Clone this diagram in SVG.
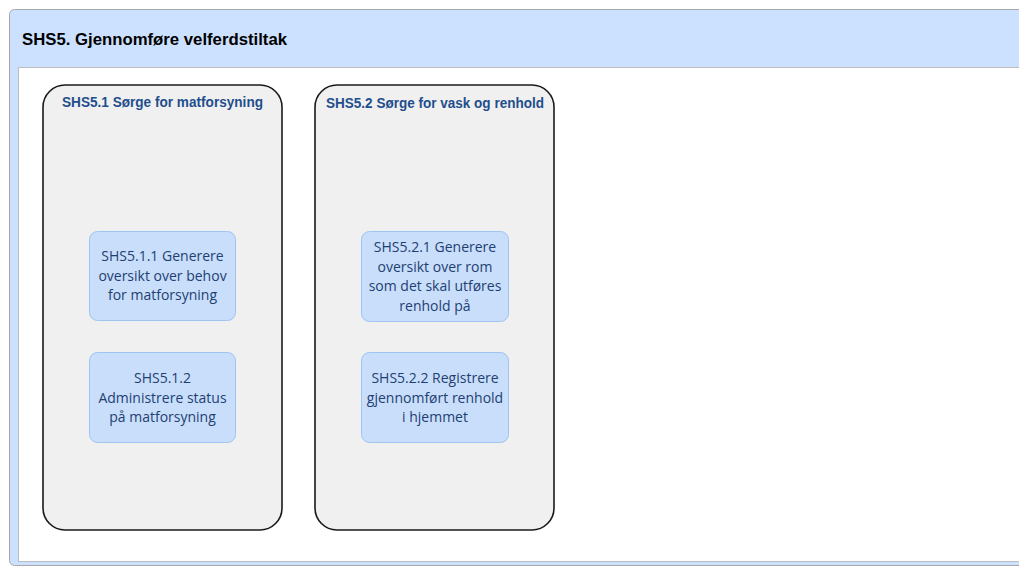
<svg xmlns="http://www.w3.org/2000/svg" width="1019" height="566" viewBox="0 0 1019 566">
  <style>
    .lane { fill: #f0f0f0; stroke: #1a1a1a; stroke-width: 1.6; }
    .lane-title { font-family: "Liberation Sans", Arial, sans-serif; font-weight: bold; font-size: 14px; fill: #1f4e8c; }
    .task { fill: #c8defa; stroke: #9fc4f0; stroke-width: 1; }
    .task-text { font-family: "Open Sans", "Liberation Sans", sans-serif; font-size: 14px; fill: #1f3f73; text-anchor: middle; }
    .main-title { font-family: "Liberation Sans", Arial, sans-serif; font-weight: bold; font-size: 17px; fill: #000; }
  </style>

  <rect x="0" y="0" width="1019" height="566" fill="#ffffff"/>

  <!-- outer process frame -->
  <g id="SHS5">
    <rect x="9.5" y="9.5" width="1030" height="556" rx="5" fill="#cce0ff" stroke="#a8a8a8" stroke-width="1"/>
    <text class="main-title" x="22" y="45" textLength="265" lengthAdjust="spacingAndGlyphs">SHS5. Gjennomføre velferdstiltak</text>
    <rect x="18.5" y="67.5" width="1020" height="494" fill="#ffffff" stroke="#bdbdbd" stroke-width="1"/>
  </g>

  <!-- lane SHS5.1 -->
  <g id="SHS5.1">
    <rect class="lane" x="43" y="85" width="239" height="445" rx="22"/>
    <text class="lane-title" x="62" y="107" textLength="201" lengthAdjust="spacingAndGlyphs">SHS5.1 Sørge for matforsyning</text>
  </g>

  <!-- lane SHS5.2 -->
  <g id="SHS5.2">
    <rect class="lane" x="315" y="85" width="239" height="445" rx="22"/>
    <text class="lane-title" x="326" y="108" textLength="218" lengthAdjust="spacingAndGlyphs">SHS5.2 Sørge for vask og renhold</text>
  </g>

  <g id="SHS5.1.1">
    <rect class="task" x="89.5" y="231.5" width="146" height="89" rx="8"/>
    <text class="task-text" x="162.5" y="261">SHS5.1.1 Generere</text>
    <text class="task-text" x="162.5" y="281">oversikt over behov</text>
    <text class="task-text" x="162.5" y="300">for matforsyning</text>
  </g>

  <g id="SHS5.1.2">
    <rect class="task" x="89.5" y="352.5" width="146" height="90" rx="8"/>
    <text class="task-text" x="162.5" y="383">SHS5.1.2</text>
    <text class="task-text" x="162.5" y="403">Administrere status</text>
    <text class="task-text" x="162.5" y="422">på matforsyning</text>
  </g>

  <g id="SHS5.2.1">
    <rect class="task" x="361.5" y="231.5" width="147" height="90" rx="8"/>
    <text class="task-text" x="435" y="252">SHS5.2.1 Generere</text>
    <text class="task-text" x="435" y="272">oversikt over rom</text>
    <text class="task-text" x="435" y="291">som det skal utføres</text>
    <text class="task-text" x="435" y="311">renhold på</text>
  </g>

  <g id="SHS5.2.2">
    <rect class="task" x="361.5" y="352.5" width="147" height="90" rx="8"/>
    <text class="task-text" x="435" y="383">SHS5.2.2 Registrere</text>
    <text class="task-text" x="435" y="403">gjennomført renhold</text>
    <text class="task-text" x="435" y="422">i hjemmet</text>
  </g>

  <!-- no connectors in this process view -->
  <g id="connectors"/>
</svg>
